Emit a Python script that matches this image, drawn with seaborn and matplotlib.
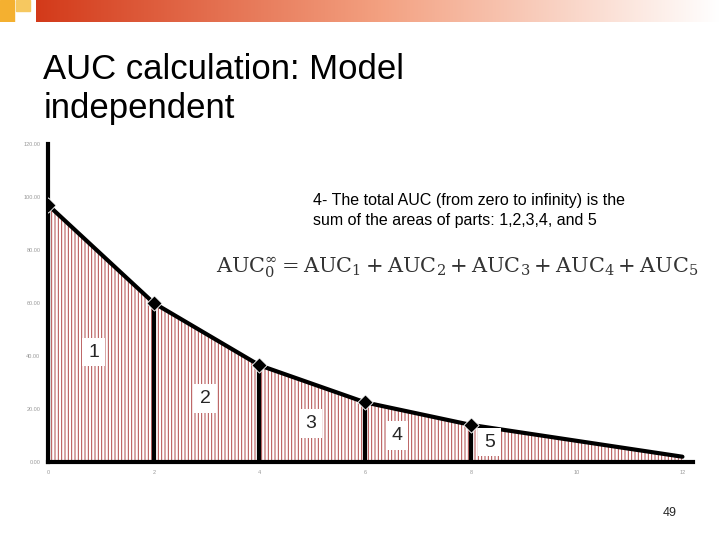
import numpy as np
import pandas as pd
import seaborn as sns
import matplotlib.pyplot as plt
from matplotlib.patches import Rectangle

# data
time = [0, 2, 4, 6, 8, 10, 12]
conc = [97, 60, 36.5, 22.5, 14, 8, 2]
part_x = [0.86, 2.98, 4.97, 6.6, 8.35]
part_y = [41.5, 24, 14.5, 10, 7.5]
part_lbl = ["1", "2", "3", "4", "5"]

sns.set_style("white")
plt.rcParams['font.family'] = ['Liberation Sans', 'DejaVu Sans']

fig = plt.figure(figsize=(7.2, 5.4), dpi=100)

# decorative top bar
top = fig.add_axes([0, 0.96, 1, 0.04])
top.axis("off")
grad = np.linspace(0, 1, 256).reshape(1, -1)
top.imshow(grad, aspect="auto", cmap=sns.blend_palette(["#d33a1a", "#f3a080", "#ffffff"], as_cmap=True),
           extent=[0.05, 1, 0, 1])
top.add_patch(Rectangle((0.0, 0.0), 0.02, 1, color="#f4b030"))
top.add_patch(Rectangle((0.022, 0.5), 0.02, 0.5, color="#f6c860"))
top.set_xlim(0, 1)
top.set_ylim(0, 1)

ax = fig.add_axes([0.0667, 0.1444, 0.8958, 0.5889])
df = pd.DataFrame({"t": time, "c": conc})
plt.rcParams['hatch.linewidth'] = 0.7
ax.fill_between(time, conc, 0, facecolor="white", edgecolor="#b04848", hatch="|||||", linewidth=0)
sns.lineplot(data=df, x="t", y="c", ax=ax, color="black", linewidth=3)
for t, c in zip(time[:5], conc[:5]):
    ax.vlines(t, 0, c, color="black", linewidth=3)
sns.scatterplot(x=time[:5], y=conc[:5], ax=ax, marker="D", color="black", s=60, zorder=5)
for x, y, s in zip(part_x, part_y, part_lbl):
    ax.text(x, y, s, fontsize=14, ha="center", va="center",
            bbox=dict(facecolor="white", edgecolor="none", pad=4))

ax.set_xlim(0, 12.2)
ax.set_ylim(0, 120)
ax.set_xticks(range(0, 13, 2))
ax.set_yticks(range(0, 121, 20))
ax.set_xticklabels([str(v) for v in range(0, 13, 2)], fontsize=4, color="#999999")
ax.set_yticklabels([f"{v}.00" for v in range(0, 121, 20)], fontsize=4, color="#999999")
ax.tick_params(length=2, width=1)
ax.set_xlabel("")
ax.set_ylabel("")
for side in ["top", "right"]:
    ax.spines[side].set_visible(False)
for side in ["left", "bottom"]:
    ax.spines[side].set_linewidth(3)
    ax.spines[side].set_color("black")

fig.text(0.06, 0.835, "AUC calculation: Model\nindependent", fontsize=25, va="center",
         linespacing=1.25, color="black")
fig.text(0.435, 0.61, "4- The total AUC (from zero to infinity) is the\nsum of the areas of parts: 1,2,3,4, and 5",
         fontsize=11.5, va="center", linespacing=1.4, color="black")
fig.text(0.30, 0.505, r"$\mathrm{AUC}_0^\infty = \mathrm{AUC}_1 + \mathrm{AUC}_2 + \mathrm{AUC}_3 + \mathrm{AUC}_4 + \mathrm{AUC}_5$",
         fontsize=15, va="center", family="DejaVu Serif", math_fontfamily="dejavuserif", color="#333333")
fig.text(0.93, 0.045, "49", fontsize=9, ha="center")

fig.savefig("out.png", dpi=100)
